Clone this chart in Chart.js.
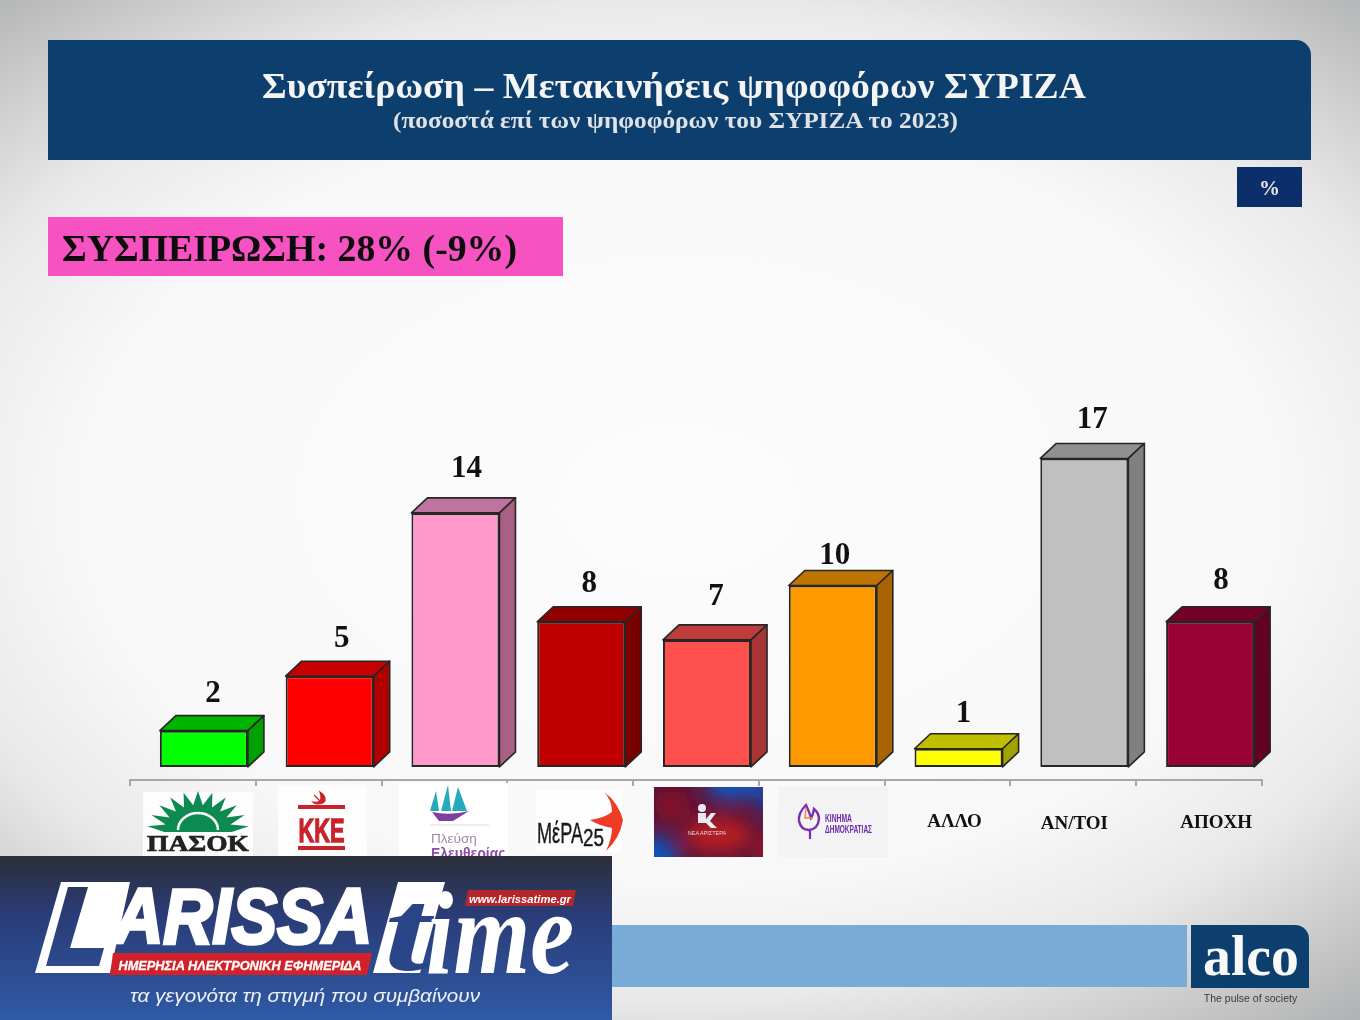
<!DOCTYPE html>
<html lang="el"><head><meta charset="utf-8">
<script src="https://cdn.jsdelivr.net/npm/chart.js@4"></script>
<style>
html,body{margin:0;padding:0;width:1360px;height:1020px;overflow:hidden;background:#fff}
#bg{position:absolute;left:0;top:0;width:1360px;height:1020px;
background:radial-gradient(ellipse 1000px 640px at 680px 500px,#fcfcfc 0%,#f8f8f8 60%,#e9e9e9 78%,#cdcdcd 92%,#b6b7b8 103%,#a8a9ab 110%);}
#wrap{position:absolute;left:0;top:0;width:1360px;height:1020px}
svg#ov{position:absolute;left:0;top:0;width:1360px;height:1020px}
.s{font-family:"Liberation Serif",serif;font-weight:700}
.a{font-family:"Liberation Sans",sans-serif}
</style></head><body>
<div id="bg"></div>
<div id="wrap"><canvas id="c" width="1360" height="1020"></canvas></div>
<svg id="ov" viewBox="0 0 1360 1020" xmlns="http://www.w3.org/2000/svg">
<defs>
<linearGradient id="bn" x1="0" y1="0" x2="0" y2="1"><stop offset="0" stop-color="#2b2e38"/><stop offset=".35" stop-color="#2a3c76"/><stop offset="1" stop-color="#2f5aa6"/></linearGradient>
<filter id="bl" x="-5%" y="-5%" width="110%" height="110%"><feGaussianBlur stdDeviation="0.5"/></filter>
<filter id="hb" x="-30%" y="-30%" width="160%" height="160%"><feGaussianBlur stdDeviation="9"/></filter>
<clipPath id="nac"><rect x="654" y="787" width="109" height="70"/></clipPath>
</defs>
<!-- header -->
<path d="M48 40H1296a15 15 0 0 1 15 15V160H48Z" fill="#0d3f6e"/>
<text class="s" x="674" y="98" text-anchor="middle" font-size="35" fill="#f4f4f4" textLength="824" lengthAdjust="spacingAndGlyphs">Συσπείρωση – Μετακινήσεις ψηφοφόρων ΣΥΡΙΖΑ</text>
<text class="s" x="675.5" y="128" text-anchor="middle" font-size="24" fill="#dfe3e8" textLength="565" lengthAdjust="spacingAndGlyphs">(ποσοστά επί των ψηφοφόρων του ΣΥΡΙΖΑ το 2023)</text>
<rect x="1237" y="167" width="65" height="40" fill="#0c2f6a"/>
<text class="s" x="1269.5" y="195" text-anchor="middle" font-size="21" fill="#e8e8e8">%</text>
<rect x="48" y="217" width="515" height="59" fill="#f652c2"/>
<text class="s" x="62" y="261" font-size="37" fill="#0c0c0c" textLength="455" lengthAdjust="spacingAndGlyphs">ΣΥΣΠΕΙΡΩΣΗ: 28% (-9%)</text>

<!-- logos -->
<g filter="url(#bl)">
<rect x="143" y="792" width="110" height="64" fill="#fdfdfd"/>
<g id="sun"></g>
<path d="M178 830a20 17 0 0 1 40 0" fill="none" stroke="#fff" stroke-width="2.5"/>
<text class="s" x="198" y="851" text-anchor="middle" font-size="24" fill="#222" stroke="#222" stroke-width=".7" textLength="102" lengthAdjust="spacingAndGlyphs">ΠΑΣΟΚ</text>

<rect x="278" y="785" width="89" height="71" fill="#fdfdfd"/>
<rect x="298" y="805" width="47" height="4" fill="#c8242a"/>
<rect x="298" y="846" width="47" height="4" fill="#c8242a"/>
<text class="a" font-weight="700" x="321.5" y="842" text-anchor="middle" font-size="34" fill="#c8242a" stroke="#c8242a" stroke-width="1.3" textLength="46" lengthAdjust="spacingAndGlyphs">ΚΚΕ</text>
<path d="M320 792q6 4 5 9q-2 3-7 3q-3 0-5-2q4 1 7-1q2-3 0-9zM314 795l8 8" fill="#c8242a" stroke="#c8242a" stroke-width="1.2"/>

<rect x="399" y="783" width="109" height="73" fill="#fff"/>
<path d="M430 811l6-20 3 20zM441 811l7-26 3 26zM452 811l6-24 9 24z" fill="#27a9bd"/>
<path d="M432 812q18 4 37-1l-16 10-14 0z" fill="#7d3fa0"/>
<line x1="430" y1="825" x2="489" y2="825" stroke="#ddd" stroke-width="1"/>
<text class="a" x="431" y="843" font-size="13.5" fill="#9a8aa6">Πλεύση</text>
<text class="a" font-weight="700" x="431" y="858" font-size="14" fill="#8a4ea8">Ελευθερίας</text>

<rect x="536" y="790" width="86" height="62" fill="#fdfdfd"/>
<path d="M604 792Q618 802 623 820Q620 838 606 851Q612 838 612 828Q600 826 590 820Q604 818 612 812Q612 800 604 792Z" fill="#ee3a26"/>
<text class="a" x="537" y="843" font-size="29" fill="#1a1a1a" stroke="#1a1a1a" stroke-width=".4" textLength="46" lengthAdjust="spacingAndGlyphs">ΜέΡΑ</text>
<text class="a" x="583" y="846" font-size="23" fill="#1a1a1a" stroke="#1a1a1a" stroke-width=".4" textLength="21" lengthAdjust="spacingAndGlyphs">25</text>
</g>

<rect x="654" y="787" width="109" height="70" fill="#5a1438"/>
<g clip-path="url(#nac)"><g filter="url(#hb)">
<ellipse cx="735" cy="785" rx="30" ry="14" fill="#1058c8"/>
<ellipse cx="655" cy="858" rx="22" ry="22" fill="#0a55c0"/>
<ellipse cx="718" cy="835" rx="34" ry="18" fill="#b51a20"/>
<ellipse cx="672" cy="805" rx="18" ry="14" fill="#8a1028"/>
<ellipse cx="768" cy="850" rx="12" ry="16" fill="#a01828"/>
<ellipse cx="768" cy="800" rx="8" ry="16" fill="#1050b8"/>
</g></g>
<g filter="url(#bl)">
<circle cx="702" cy="808" r="4" fill="#e9e9f2"/>
<path d="M698 813h8v6l5-6h5l-6 8 7 7h-6l-5-5h-8z" fill="#e9e9f2"/>
<text class="a" x="707" y="835" text-anchor="middle" font-size="5.5" fill="#dcdce6">ΝΕΑ ΑΡΙΣΤΕΡΑ</text>

<rect x="778" y="787" width="110" height="70" fill="#f3f3f3"/>
<path d="M806 805q-8 8-7 16q2 9 10 9q9-1 10-11q0-6-5-10q-1 6-3 9q-2-7-5-13z" fill="none" stroke="#7a2fb0" stroke-width="2.4"/>
<path d="M806 808l-1 10h8" fill="none" stroke="#ea8a3a" stroke-width="1.4"/>
<line x1="810" y1="830" x2="810" y2="839" stroke="#7a2fb0" stroke-width="2.2"/>
<text class="a" font-weight="700" x="825" y="822" font-size="11" fill="#6a2aa8" textLength="27" lengthAdjust="spacingAndGlyphs">ΚΙΝΗΜΑ</text>
<text class="a" font-weight="700" x="825" y="833" font-size="11" fill="#6a2aa8" textLength="47" lengthAdjust="spacingAndGlyphs">ΔΗΜΟΚΡΑΤΙΑΣ</text>
</g>

<!-- bottom band -->
<rect x="612" y="925" width="575" height="62" fill="#78acd6"/>
<path d="M1191 925H1295a14 14 0 0 1 14 14V988H1191Z" fill="#0d3f6e"/>
<text class="s" x="1203" y="975" font-size="58" fill="#f8f8f8" textLength="96" lengthAdjust="spacingAndGlyphs">alco</text>
<text class="a" x="1250.5" y="1002" text-anchor="middle" font-size="10.5" fill="#3a3a3a">The pulse of society</text>

<!-- banner -->
<rect x="0" y="856" width="612" height="164" fill="url(#bn)"/>
<path fill-rule="evenodd" d="M61 882H130L110 973H35ZM68 887L46 966H99L104 948H70L88 887Z" fill="#fff"/>
<text class="a" font-weight="700" font-style="italic" x="114" y="943" font-size="78" fill="#fff" textLength="258" lengthAdjust="spacingAndGlyphs" stroke="#fff" stroke-width="3.5">ARISSA</text>
<path d="M398 882H445L420 973H373Z" fill="#fff"/>
<text class="s" x="384" y="970" font-size="116" font-style="italic" fill="#2a4488" textLength="46" lengthAdjust="spacingAndGlyphs">t</text>
<text class="s" x="426" y="973" font-size="118" font-style="italic" fill="#fff" textLength="148" lengthAdjust="spacingAndGlyphs">ime</text>
<path d="M113 953H372L367 975H110Z" fill="#d1212a"/>
<text class="a" font-weight="700" font-style="italic" x="240" y="970" text-anchor="middle" font-size="13.5" fill="#fff" stroke="#fff" stroke-width=".3" textLength="243" lengthAdjust="spacingAndGlyphs">ΗΜΕΡΗΣΙΑ ΗΛΕΚΤΡΟΝΙΚΗ ΕΦΗΜΕΡΙΔΑ</text>
<path d="M468 890H576L573 906H465Z" fill="#b5252c"/>
<text class="a" font-weight="700" font-style="italic" x="520" y="902.5" text-anchor="middle" font-size="11" fill="#fff" textLength="102" lengthAdjust="spacingAndGlyphs">www.larissatime.gr</text>
<text class="a" font-style="italic" x="305" y="1002" text-anchor="middle" font-size="18.5" fill="#eef1f7" textLength="350" lengthAdjust="spacingAndGlyphs">τα γεγονότα τη στιγμή που συμβαίνουν</text>
</svg>
<script>
// ---- data ----
const categories = ['ΠΑΣΟΚ','ΚΚΕ','Πλεύση Ελευθερίας','ΜέΡΑ25','Νέα Αριστερά','Κίνημα Δημοκρατίας','ΑΛΛΟ','ΑΝ/ΤΟΙ','ΑΠΟΧΗ'];
const tickTexts  = ['','','','','','','ΑΛΛΟ','ΑΝ/ΤΟΙ','ΑΠΟΧΗ'];
const values     = [2,5,14,8,7,10,1,17,8];
const frontColors= ['#00ff00','#ff0000','#ff99cc','#c00000','#ff5050','#ff9900','#ffff00','#c0c0c0','#990033'];
const sideColors = ['#00a000','#b00000','#a86085','#7a0000','#a83434','#a86400','#a3a300','#808080','#640022'];
const topColors  = ['#00b400','#c80000','#bf73a0','#900000','#bf3c3c','#bf7300','#bfbf00','#909090','#730026'];
// ---- hand layout ----
const barShift=11, depthX=16, depthY=15;
const valueNudgeX=[9,12,11,8,9,2,5,8,11], valueNudgeY=[37,37,44,38,43,29,35,38,41];
const tickNudgeX=[0,0,0,0,0,0,7,1,17], tickY=[0,0,0,0,0,0,822,824,823];

const bar3d={id:'bar3d',
 beforeDraw(ch){
  const s=ch.scales.x, items=s.getLabelItems();
  items.forEach((it,i)=>{ if(it.options&&it.options.translation){
    it.options.translation=[s.getPixelForTick(i)+tickNudgeX[i], tickY[i]||it.options.translation[1]];
    it.options.textBaseline='middle';
    it.textOffset=0;
  }});
 },
 beforeDatasetsDraw(ch){
  const c=ch.ctx; c.save(); c.translate(barShift,0);
  ch.getDatasetMeta(0).data.forEach((b,i)=>{
    const l=b.x-b.width/2, r=b.x+b.width/2, t=b.y, bt=b.base;
    c.lineWidth=1.6; c.strokeStyle='#262626'; c.lineJoin='round';
    c.fillStyle=topColors[i];
    c.beginPath();c.moveTo(l,t);c.lineTo(l+depthX,t-depthY);c.lineTo(r+depthX,t-depthY);c.lineTo(r,t);c.closePath();c.fill();c.stroke();
    c.fillStyle=sideColors[i];
    c.beginPath();c.moveTo(r,t);c.lineTo(r+depthX,t-depthY);c.lineTo(r+depthX,bt-depthY);c.lineTo(r,bt);c.closePath();c.fill();c.stroke();
  });
 },
 afterDatasetsDraw(ch){
  const c=ch.ctx;
  c.font='700 31px "Liberation Serif"';c.textAlign='center';c.textBaseline='middle';c.fillStyle='#111';
  ch.getDatasetMeta(0).data.forEach((b,i)=>c.fillText(String(values[i]),b.x+valueNudgeX[i],b.y-valueNudgeY[i]));
  c.restore();
 }
};
new Chart(document.getElementById('c'),{
 type:'bar',
 data:{labels:categories,datasets:[{data:values,backgroundColor:frontColors,borderColor:'#262626',borderWidth:2,borderSkipped:false,
   barPercentage:1,categoryPercentage:0.7}]},
 plugins:[bar3d],
 options:{responsive:false,animation:false,devicePixelRatio:1,
  layout:{padding:{left:130,right:98,top:404,bottom:0}},
  plugins:{legend:{display:false},tooltip:{enabled:false},title:{display:false}},
  scales:{
   y:{display:false,min:-0.72,max:20},
   x:{position:'bottom',
    afterFit(s){s.height=240;},
    border:{display:true,color:'#a8a8a8',width:2},
    grid:{drawOnChartArea:false,drawTicks:true,tickLength:6,color:'#a8a8a8',lineWidth:2,offset:true},
    ticks:{autoSkip:false,maxRotation:0,font:{family:'"Liberation Serif"',weight:'700',size:19},color:'#111',
      callback(v,i){return tickTexts[i];}}
   }
  }
 }
});
// PASOK sun (logo artwork)
(function(){const cx=198,cy=832,n=11;let p='';
 for(let i=0;i<=2*n;i++){const a=Math.PI*(i/(2*n)),R=i%2?41:27;
  p+=(cx-R*1.25*Math.cos(a)).toFixed(1)+','+(cy-R*Math.sin(a)).toFixed(1)+' ';}
 document.getElementById('sun').innerHTML='<polygon points="'+p+'" fill="#0c8a50"/>';
})();
</script>
</body></html>
